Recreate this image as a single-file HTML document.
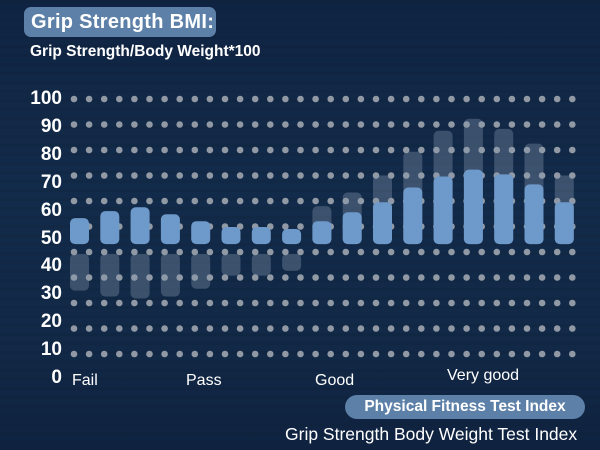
<!DOCTYPE html>
<html><head><meta charset="utf-8"><style>
html,body{margin:0;padding:0}
body{width:600px;height:450px;overflow:hidden;position:relative;font-family:"Liberation Sans",sans-serif;
background:linear-gradient(180deg,#0f2442 0%,#132b4a 40%,#122a48 70%,#0f2340 100%);}
.t{position:absolute;color:#fff;white-space:nowrap}
</style></head><body>
<svg width="600" height="450" style="position:absolute;left:0;top:0">
<defs>
<pattern id="tex" width="600" height="9" patternUnits="userSpaceOnUse">
<rect width="600" height="3" fill="#0a1a30" opacity="0.15"/>
</pattern>
</defs>
<rect width="600" height="450" fill="url(#tex)"/>
<g id="dots"></g>
<g id="ghosts"></g>
<g id="bars"></g>
</svg>
<div class="t" style="left:24px;top:7px;width:192px;height:30px;background:#5d80a8;border-radius:7px;font-weight:bold;font-size:20px;line-height:30px;padding-left:7px;box-sizing:border-box;letter-spacing:0.3px">Grip Strength BMI:</div>
<div class="t" style="left:30px;top:43px;font-weight:bold;font-size:15.5px">Grip Strength/Body Weight*100</div>
<div id="ylabels"></div>
<div class="t" style="left:72px;top:372px;font-size:16px">Fail</div>
<div class="t" style="left:186px;top:372px;font-size:16px">Pass</div>
<div class="t" style="left:315px;top:372px;font-size:16px">Good</div>
<div class="t" style="left:447px;top:367px;font-size:16px">Very good</div>
<div class="t" style="left:345px;top:395px;width:240px;height:24px;background:#5d80a8;border-radius:12px;font-weight:bold;font-size:15.5px;line-height:24px;text-align:center">Physical Fitness Test Index</div>
<div class="t" style="left:285px;top:424px;font-size:17.5px">Grip Strength Body Weight Test Index</div>
<script>
const yTicks=["100","90","80","70","60","50","40","30","20","10","0"];
const frontTop=[57.3,59.8,61.2,58.7,56.2,54.1,54.1,53.4,56.2,59.4,63,68.3,72.2,74.7,73,69.4,63];
const frontBase=[48,48,48,48,48,48,48,48,48,48,48,48,48,48,48,48,48];
const ghostHigh=[null,null,null,null,null,null,null,null,61.6,66.5,72.6,81.1,88.6,92.9,89.3,84,72.6];
const ghostLowTop=[44.5,44.5,44.5,44.5,44.5,44.5,44.5,44.5,null,null,null,null,null,null,null,null,null];
const ghostLowBottom=[31.3,29.2,28.5,29.2,32,36.7,36.7,38.4,null,null,null,null,null,null,null,null,null];
const NS="http://www.w3.org/2000/svg";
function y(v){return 378-2.79*v;}
function x(i){return 79.5+30.3*i;}
const dots=document.getElementById('dots');
for(let r=0;r<11;r++){for(let c=0;c<34;c++){
const d=document.createElementNS(NS,'circle');


d.setAttribute('cx',74+15.1*c);d.setAttribute('cy',99+25.5*r);d.setAttribute('r',3.3);d.setAttribute('fill','#a8adb5');d.setAttribute('opacity','0.85');
dots.appendChild(d);}}
const yl=document.getElementById('ylabels');
yTicks.forEach((t,i)=>{const e=document.createElement('div');


e.className='t';e.textContent=t;
e.style.cssText='right:538px;top:'+(99+i*27.9-11)+'px;font-weight:bold;font-size:19px;line-height:22px';yl.appendChild(e);});
function rr(g,i,t,b,fill,op,name){const r=document.createElementNS(NS,'rect');


r.setAttribute('x',x(i)-9.5);r.setAttribute('width',19);r.setAttribute('y',y(t));r.setAttribute('height',y(b)-y(t));r.setAttribute('rx',5);r.setAttribute('fill',fill);r.setAttribute('opacity',op);g.appendChild(r);}
const gh=document.getElementById('ghosts'),bs=document.getElementById('bars');
for(let i=0;i<frontTop.length;i++){
if(ghostHigh[i]!=null)rr(gh,i,ghostHigh[i],frontBase[i],'#8a9cb2',0.35,'ghost-bar');
if(ghostLowTop[i]!=null)rr(gh,i,ghostLowTop[i],ghostLowBottom[i],'#8a9cb2',0.35,'ghost-bar-low');
rr(bs,i,frontTop[i],frontBase[i],'#6e9acb',1,'bar');}
</script>
</body></html>
